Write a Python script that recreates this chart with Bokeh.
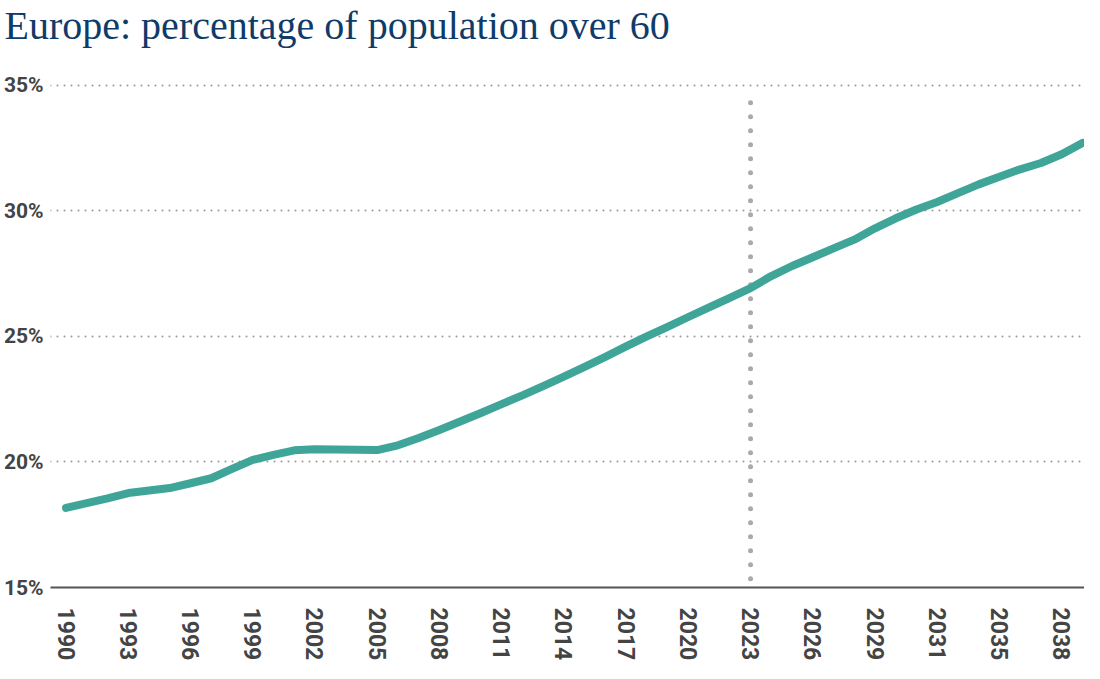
"""Europe: percentage of population over 60 - line chart."""

from bokeh.plotting import figure
from bokeh.models import FixedTicker, Range1d
from bokeh.embed import file_html
from bokeh.resources import INLINE

# Share of the population aged over 60, one point per year
share_over_60 = [
    18.17, 18.36, 18.55, 18.76, 18.86, 18.96, 19.15, 19.35, 19.72, 20.08,
    20.28, 20.46, 20.50, 20.49, 20.48, 20.47, 20.66, 20.95, 21.27, 21.61,
    21.95, 22.30, 22.65, 23.02, 23.40, 23.78, 24.18, 24.60, 25.00, 25.38,
    25.77, 26.15, 26.53, 26.92, 27.40, 27.80, 28.15, 28.50, 28.85, 29.30,
    29.70, 30.05, 30.35, 30.70, 31.05, 31.35, 31.65, 31.90, 32.25, 32.70,
]
x_index = list(range(len(share_over_60)))

# Axis labels as printed on the chart (every third point)
x_tick_labels = [
    "1990", "1993", "1996", "1999", "2002", "2005", "2008", "2011", "2014",
    "2017", "2020", "2023", "2026", "2029", "2031", "2035", "2038",
]
y_ticks = [15, 20, 25, 30, 35]
y_tick_labels = ["15%", "20%", "25%", "30%", "35%"]

# Marker for the current year (2023) and its top
current_index = 33
marker_top = 34.3

TEAL = "#40a599"
NAVY = "#0f3b6a"
LABEL = "#444444"


def create_plot():
    # the frame reaches up to the title, the empty band above 35% is just margin
    p = figure(
        width=1084,
        height=663,
        x_range=Range1d(-0.75, 49.1),
        y_range=Range1d(15, 36.5),
        toolbar_location=None,
        output_backend="svg",
        min_border_left=0,
        min_border_right=0,
        min_border_bottom=0,
        min_border_top=0,
    )
    p.outline_line_color = None

    # Title
    p.title.text = "Europe: percentage of population over 60"
    p.title.text_font = "Liberation Serif"
    p.title.text_font_size = "40px"
    p.title.text_font_style = "normal"
    p.title.text_color = NAVY
    p.title.offset = -46
    p.title.standoff = 0

    # Current-year marker, drawn top-down so the dots start at its top
    p.segment(
        x0=[current_index], y0=[marker_top], x1=[current_index], y1=[15],
        line_color="#aaaaaa", line_width=5, line_dash="0 14", line_cap="round",
    )

    # Main series
    p.line(
        x_index, share_over_60,
        line_color=TEAL, line_width=8, line_cap="round", line_join="round",
    )

    # X axis
    xticks = x_index[::3]
    p.xaxis.ticker = FixedTicker(ticks=xticks)
    p.xaxis.major_label_overrides = dict(zip(xticks, x_tick_labels))
    p.xaxis.major_label_orientation = "vertical"
    p.xaxis.major_label_text_font = "Roboto"
    p.xaxis.major_label_text_font_size = "23px"
    p.xaxis.major_label_text_font_style = "bold"
    p.xaxis.major_label_text_line_height = 1.0
    p.xaxis.major_label_text_color = LABEL
    p.xaxis.major_label_standoff = 20
    p.xaxis.major_tick_out = 0
    p.xaxis.axis_label_standoff = 0
    p.xaxis.axis_line_color = "#555555"
    p.xaxis.axis_line_width = 2
    p.xaxis.major_tick_line_color = None
    p.xaxis.minor_tick_line_color = None

    # Y axis
    p.yaxis.ticker = FixedTicker(ticks=y_ticks)
    p.yaxis.major_label_overrides = dict(zip(y_ticks, y_tick_labels))
    p.yaxis.major_label_text_font = "Roboto"
    p.yaxis.major_label_text_font_size = "21px"
    p.yaxis.major_label_text_font_style = "bold"
    p.yaxis.major_label_text_color = LABEL
    p.yaxis.major_label_standoff = 7
    p.yaxis.major_tick_out = 0
    p.yaxis.axis_label_standoff = 0
    p.yaxis.axis_line_color = None
    p.yaxis.major_tick_line_color = None
    p.yaxis.minor_tick_line_color = None

    # Grid
    p.xgrid.grid_line_color = None
    p.ygrid.ticker = FixedTicker(ticks=[20, 25, 30, 35])
    p.ygrid.grid_line_color = "#999999"
    p.ygrid.grid_line_width = 2
    p.ygrid.grid_line_dash = "0 7"
    p.ygrid.grid_line_cap = "round"

    return p


p = create_plot()
open("out.html", "w").write(file_html(p, INLINE))
